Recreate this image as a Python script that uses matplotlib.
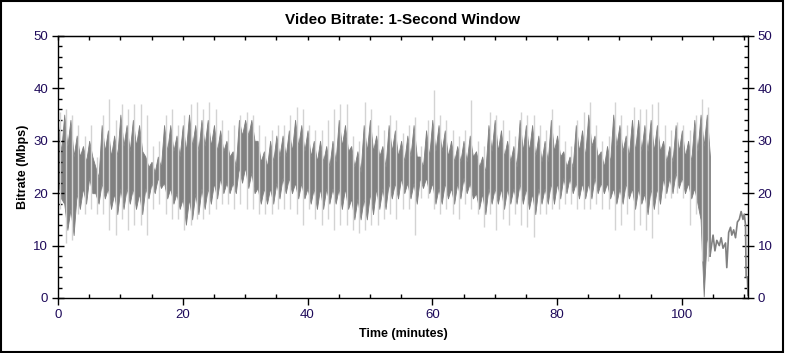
import matplotlib.pyplot as plt
from matplotlib.ticker import MultipleLocator
from matplotlib.patches import Rectangle

plt.rcParams['font.family'] = ['Liberation Sans', 'DejaVu Sans']

# per-minute readings (minute 0..104), Mbps
# dark_hi / dark_lo: reach of the dark trace, core_hi / core_lo: its solid part
# peak_hi / peak_lo: light grey spikes
dark_hi = [33, 35, 34, 31, 29, 30, 25, 33, 32, 31, 35, 33, 34, 33, 27, 26, 27, 33, 33,
           31, 33, 35, 33, 34, 34, 33, 32, 30, 28, 34, 34, 34, 30, 28, 30, 31, 31, 32,
           34, 33, 32, 30, 30, 29, 30, 34, 33, 29, 28, 33, 34, 31, 29, 33, 32, 30, 31,
           33, 27, 32, 34, 33, 32, 30, 29, 30, 31, 28, 27, 33, 34, 32, 30, 29, 34, 33,
           33, 31, 30, 34, 31, 28, 27, 33, 32, 35, 31, 28, 29, 35, 33, 31, 34, 34, 33, 34,
           33, 30, 29, 33, 32, 30, 34, 35, 35]
core_hi = [28, 29, 27, 27, 26, 27, 23, 28, 27, 27, 29, 28, 29, 28, 25, 24, 25, 28, 28,
           27, 28, 29, 28, 29, 29, 28, 28, 27, 25, 31, 31, 30, 26, 25, 26, 27, 27, 28,
           29, 28, 27, 26, 26, 25, 26, 29, 28, 25, 24, 28, 28, 27, 25, 28, 27, 26, 27,
           27, 25, 27, 28, 28, 27, 26, 26, 26, 27, 25, 24, 28, 28, 27, 26, 25, 28, 28,
           27, 26, 26, 28, 27, 25, 25, 28, 27, 29, 27, 25, 26, 29, 28, 27, 28, 28, 28, 28,
           28, 26, 26, 28, 27, 26, 28, 29, 27]
core_lo = [22, 18, 17, 20, 21, 23, 20, 22, 21, 20, 21, 21, 21, 20, 21, 22, 23, 22, 21,
           20, 19, 19, 20, 21, 21, 22, 23, 22, 22, 25, 25, 24, 21, 21, 21, 22, 23, 23,
           22, 22, 21, 21, 21, 21, 21, 21, 21, 19, 19, 19, 20, 21, 21, 22, 22, 23, 22,
           22, 23, 23, 22, 21, 22, 21, 22, 23, 22, 20, 20, 21, 21, 21, 21, 21, 22, 21,
           20, 21, 21, 22, 22, 23, 23, 22, 22, 22, 23, 22, 22, 21, 21, 22, 21, 21, 20, 21,
           21, 23, 23, 24, 23, 22, 21, 15, 12]
dark_lo = [19, 13, 12, 17, 18, 20, 18, 19, 17, 16, 17, 18, 17, 16, 19, 20, 21, 19, 18,
           17, 14, 15, 16, 17, 18, 19, 20, 20, 20, 22, 21, 20, 18, 18, 18, 19, 20, 20,
           19, 19, 18, 17, 17, 18, 18, 17, 17, 15, 15, 15, 16, 17, 17, 19, 19, 20, 19,
           18, 21, 20, 18, 18, 19, 18, 19, 20, 19, 17, 16, 18, 18, 17, 18, 18, 18, 17,
           16, 18, 18, 18, 19, 20, 20, 19, 19, 19, 20, 20, 19, 18, 18, 19, 17, 18, 16, 17,
           18, 20, 20, 21, 20, 19, 18, 0.3, 8]
peak_hi = [35.5, 36, 35, 33, 31, 33, 27, 35, 38, 34, 37, 36, 37, 37, 35, 29, 30, 35, 36,
           33, 35, 37, 37.5, 36, 37.5, 36, 34, 32, 33, 35, 35.5, 35, 33, 31, 32, 33, 33, 35,
           36.5, 36, 33, 32, 32, 34, 36, 37, 37, 31, 30, 37.5, 36, 33, 32, 35, 34, 31.5, 33,
           34.5, 29, 34, 39.7, 35, 34, 32, 31, 32, 37.8, 30, 29, 35.5, 35, 34, 32, 31, 35.5, 35,
           35, 33, 32, 36, 33, 30, 29, 34, 35.5, 37.5, 33, 30, 31, 37.5, 35, 33, 36.5, 36, 36, 37,
           37.5, 33, 32, 33.5, 33, 32, 35, 38, 36.5]
peak_lo = [17, 10.5, 11, 16, 16, 17, 16, 16, 13, 12, 15, 13, 14, 14, 12, 17, 18, 16, 15,
           15, 13, 14, 15, 15, 16, 17, 18, 18, 17, 18, 17, 17, 16, 16, 16, 17, 17, 17,
           16, 14, 17, 15, 14, 15, 13, 14, 14, 13, 12.5, 13, 14, 14, 15, 16, 15, 17, 17,
           12, 19, 19, 17, 16, 17, 16, 15, 18, 17, 16, 13.5, 16, 13, 15, 14, 16, 14, 13.5,
           11.7, 16, 16, 17, 17, 18, 18, 17, 17, 17, 18, 17, 17, 13, 14, 16, 13, 14, 13, 11.5,
           16, 19, 19, 20, 19, 14, 16, 7, 7]

# after the drop near the end of the title
tail_minutes = [105.0, 105.3, 105.6, 106.0, 106.3, 106.6, 107.0, 107.2, 107.5, 107.8, 108.0,
                108.3, 108.6, 108.9, 109.2, 109.5, 109.8, 110.0, 110.2, 110.3, 110.5, 110.6]
tail_mbps = [12, 9, 11, 10, 11.5, 9.5, 10.5, 5.8, 12.5, 13.5, 12,
             13, 11.5, 14.5, 15, 16.5, 15, 16, 14, 4, 4, 0.5]

# jagged outline: spikes up at whole minutes, spikes down at half minutes
edge_t, top_edge, bot_edge = [], [], []
for i in range(len(dark_hi)):
    edge_t += [i, i + 0.5]
    top_edge += [dark_hi[i], core_hi[i]]
    bot_edge += [core_lo[i], dark_lo[i]]
spike_t = [i + 0.25 for i in range(len(peak_hi))]

fig = plt.figure(figsize=(7.85, 3.53), dpi=100)
ax = fig.add_axes([58 / 785, 1 - 298 / 353, 690 / 785, 262 / 353])

ax.vlines(spike_t, peak_lo, peak_hi, color='#d3d3d3', lw=1.0)
ax.fill_between(edge_t, bot_edge, top_edge, color='#808080', lw=0.6, edgecolor='#808080')
ax.plot([edge_t[-1]] + tail_minutes, [bot_edge[-1]] + tail_mbps, color='#808080', lw=1.2)

ax.set_xlim(0, 110.6)
ax.set_ylim(0, 50)
ax.xaxis.set_major_locator(MultipleLocator(20))
ax.xaxis.set_minor_locator(MultipleLocator(5))
ax.yaxis.set_major_locator(MultipleLocator(10))
ax.yaxis.set_minor_locator(MultipleLocator(2))

lab_col = '#1e0a5a'
ax.tick_params(axis='y', which='major', direction='inout', length=8, width=1,
               left=True, right=True, labelleft=True, labelright=True,
               labelsize=9.5, labelcolor=lab_col, pad=3)
ax.tick_params(axis='y', which='minor', direction='in', length=3, width=1,
               left=True, right=True)
ax.tick_params(axis='x', which='major', direction='out', length=5, width=1,
               labelsize=9.5, labelcolor=lab_col, pad=3)
ax.tick_params(axis='x', which='minor', direction='in', length=3, width=1)

top = ax.secondary_xaxis('top')
top.xaxis.set_major_locator(MultipleLocator(20))
top.xaxis.set_minor_locator(MultipleLocator(5))
top.tick_params(which='both', direction='in', length=3, width=1, labeltop=False)

for s in ax.spines.values():
    s.set_linewidth(1)

ax.set_title('Video Bitrate: 1-Second Window', fontsize=11, fontweight='bold', pad=9)
ax.set_xlabel('Time (minutes)', fontsize=9, fontweight='bold', labelpad=5)
ax.set_ylabel('Bitrate (Mbps)', fontsize=9, fontweight='bold', labelpad=3)

fig.patches.append(Rectangle((0.001, 0.002), 0.997, 0.995, transform=fig.transFigure,
                             fill=False, edgecolor='black', lw=1.5))

fig.savefig('out.png', dpi=100)
